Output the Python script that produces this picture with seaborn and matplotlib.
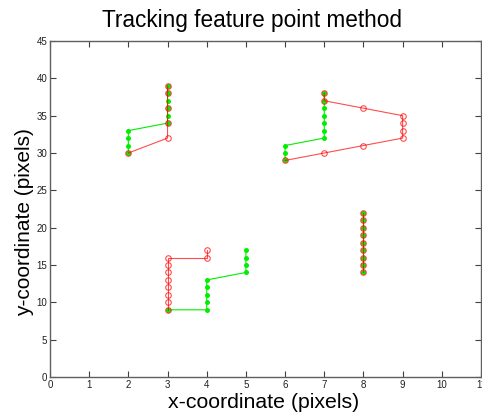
import matplotlib
matplotlib.use("Agg")
import matplotlib.pyplot as plt
import seaborn as sns
import pandas as pd

# Feature-point tracks: reference (red) and tracked (green), four features
red_x = [
    [2, 3, 3, 3, 3, 3],
    [6, 7, 8, 9, 9, 9, 9, 8, 7, 7],
    [4, 4, 3, 3, 3, 3, 3, 3, 3, 3],
    [8, 8, 8, 8, 8, 8, 8, 8, 8],
]
red_y = [
    [30, 32, 34, 36, 38, 39],
    [29, 30, 31, 32, 33, 34, 35, 36, 37, 38],
    [17, 16, 16, 15, 14, 13, 12, 11, 10, 9],
    [14, 15, 16, 17, 18, 19, 20, 21, 22],
]
green_x = [
    [2, 2, 2, 2, 3, 3, 3, 3, 3, 3],
    [6, 6, 6, 7, 7, 7, 7, 7, 7, 7],
    [3, 4, 4, 4, 4, 4, 5, 5, 5, 5],
    [8, 8, 8, 8, 8, 8, 8, 8, 8],
]
green_y = [
    [30, 31, 32, 33, 34, 35, 36, 37, 38, 39],
    [29, 30, 31, 32, 33, 34, 35, 36, 37, 38],
    [9, 9, 10, 11, 12, 13, 14, 15, 16, 17],
    [14, 15, 16, 17, 18, 19, 20, 21, 22],
]
x_ticks = list(range(0, 12))
y_ticks = list(range(0, 46, 5))


def tracks_frame(xs, ys):
    rows = []
    for t, (xx, yy) in enumerate(zip(xs, ys)):
        for i, (a, b) in enumerate(zip(xx, yy)):
            rows.append({"track": t, "step": i, "x": a, "y": b})
    return pd.DataFrame(rows)


sns.set_theme(style="ticks")
plt.rcParams["font.family"] = ["Liberation Sans", "DejaVu Sans"]

W, H = 482, 418
fig = plt.figure(figsize=(W / 100, H / 100), dpi=100)
left, right, top, bottom = 50, 481, 41, 377
ax = fig.add_axes([left / W, (H - bottom) / H, (right - left) / W, (bottom - top) / H])

green_df = tracks_frame(green_x, green_y)
red_df = tracks_frame(red_x, red_y)

sns.lineplot(data=green_df, x="x", y="y", units="track", estimator=None, sort=False,
             color="#00ee00", lw=0.8, marker="o", markersize=3.6,
             markeredgewidth=0, markerfacecolor="#00ee00", ax=ax, legend=False)
sns.lineplot(data=red_df, x="x", y="y", units="track", estimator=None, sort=False,
             color="red", lw=0.8, alpha=0.7, marker="o", markersize=4.0,
             markeredgewidth=0.8, markerfacecolor="none", markeredgecolor="red",
             ax=ax, legend=False)

ax.set_xlim(0, 11)
ax.set_ylim(0, 45)
ax.set_xticks(x_ticks)
ax.set_yticks(y_ticks)
ax.set_xticklabels([str(v) for v in x_ticks])
ax.set_yticklabels([str(v) for v in y_ticks])
ax.set_xlabel("")
ax.set_ylabel("")

for s in ax.spines.values():
    s.set_visible(True)
    s.set_color("#606060")
    s.set_linewidth(1.0)

ax.tick_params(direction="in", length=4, width=0.8, color="#404040",
               labelsize=7, labelcolor="#202020", pad=2,
               top=True, right=True)
for lab in ax.get_xticklabels() + ax.get_yticklabels():
    lab.set_fontfamily(["Liberation Sans Narrow", "Liberation Sans", "DejaVu Sans"])

fig.text(252 / W, 1 - 20 / H, "Tracking feature point method",
         ha="center", va="center", fontsize=16.3, color="black")
fig.text(264 / W, 1 - 403 / H, "x-coordinate (pixels)",
         ha="center", va="center", fontsize=15.3, color="black")
fig.text(25 / W, 1 - 222 / H, "y-coordinate (pixels)",
         ha="center", va="center", rotation=90, fontsize=15, color="black")

fig.savefig("out.png", dpi=100)
